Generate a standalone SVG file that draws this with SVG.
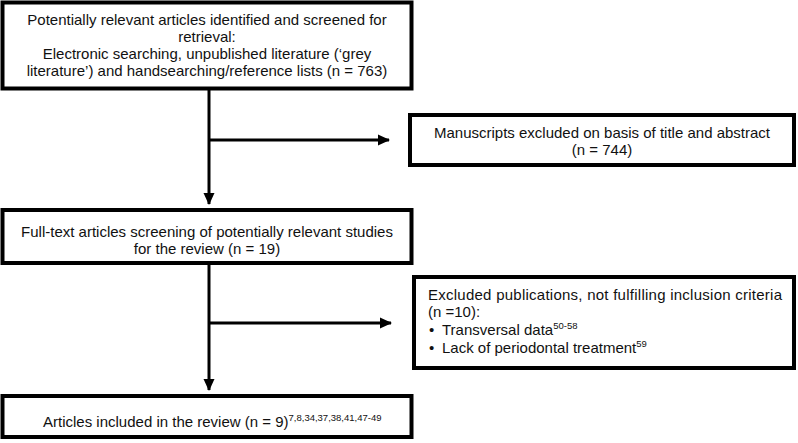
<svg xmlns="http://www.w3.org/2000/svg" width="798" height="443" viewBox="0 0 798 443">
<defs>
<marker id="ah" markerWidth="12" markerHeight="12" refX="11" refY="6" orient="auto" markerUnits="userSpaceOnUse" viewBox="0 0 12 12">
<path d="M0,0.5 L12,6 L0,11.5 z" fill="#000"/>
</marker>
<style>
.box{fill:#fff;stroke:#000;stroke-width:4}
.t{font-family:"Liberation Sans",Arial,sans-serif;font-size:15px;fill:#111}
.c{text-anchor:middle}
.sup{font-size:9.5px}
.ln{fill:none;stroke:#000;stroke-width:3}
</style>
</defs>
<rect width="798" height="443" fill="#fff"/>
<g id="connectors">
<line class="ln" x1="209" y1="90" x2="209" y2="204" marker-end="url(#ah)"/>
<line class="ln" x1="209" y1="140" x2="389" y2="140" marker-end="url(#ah)"/>
<line class="ln" x1="209" y1="265" x2="209" y2="390" marker-end="url(#ah)"/>
<line class="ln" x1="209" y1="323" x2="391" y2="323" marker-end="url(#ah)"/>
</g>
<g id="n1">
<rect class="box" x="2.5" y="2.5" width="409" height="86"/>
<text class="t c" x="207" y="25">Potentially relevant articles identified and screened for</text>
<text class="t c" x="207" y="42">retrieval:</text>
<text class="t c" x="207" y="59">Electronic searching, unpublished literature (‘grey</text>
<text class="t c" x="207" y="76">literature’) and handsearching/reference lists (n = 763)</text>
</g>
<g id="n2">
<rect class="box" x="410" y="115" width="384" height="50"/>
<text class="t c" x="602" y="138">Manuscripts excluded on basis of title and abstract</text>
<text class="t c" x="602" y="155">(n = 744)</text>
</g>
<g id="n3">
<rect class="box" x="2.5" y="210" width="409" height="53"/>
<text class="t c" x="207" y="237">Full-text articles screening of potentially relevant studies</text>
<text class="t c" x="207" y="254">for the review (n = 19)</text>
</g>
<g id="n4">
<rect class="box" x="414" y="277" width="380" height="91"/>
<text class="t" x="428" y="300" textLength="354" lengthAdjust="spacing">Excluded publications, not fulfilling inclusion criteria</text>
<text class="t" x="428" y="317">(n =10):</text>
<text class="t" y="335"><tspan x="429">•</tspan><tspan x="442">Transversal data</tspan><tspan class="sup" dy="-6">50-58</tspan></text>
<text class="t" y="353"><tspan x="429">•</tspan><tspan x="442">Lack of periodontal treatment</tspan><tspan class="sup" dy="-6">59</tspan></text>
</g>
<g id="n5">
<rect class="box" x="2.5" y="396" width="409" height="41"/>
<text class="t" x="43" y="427">Articles included in the review (n = 9)<tspan class="sup" dy="-6">7,8,34,37,38,41,47-49</tspan></text>
</g>
</svg>
